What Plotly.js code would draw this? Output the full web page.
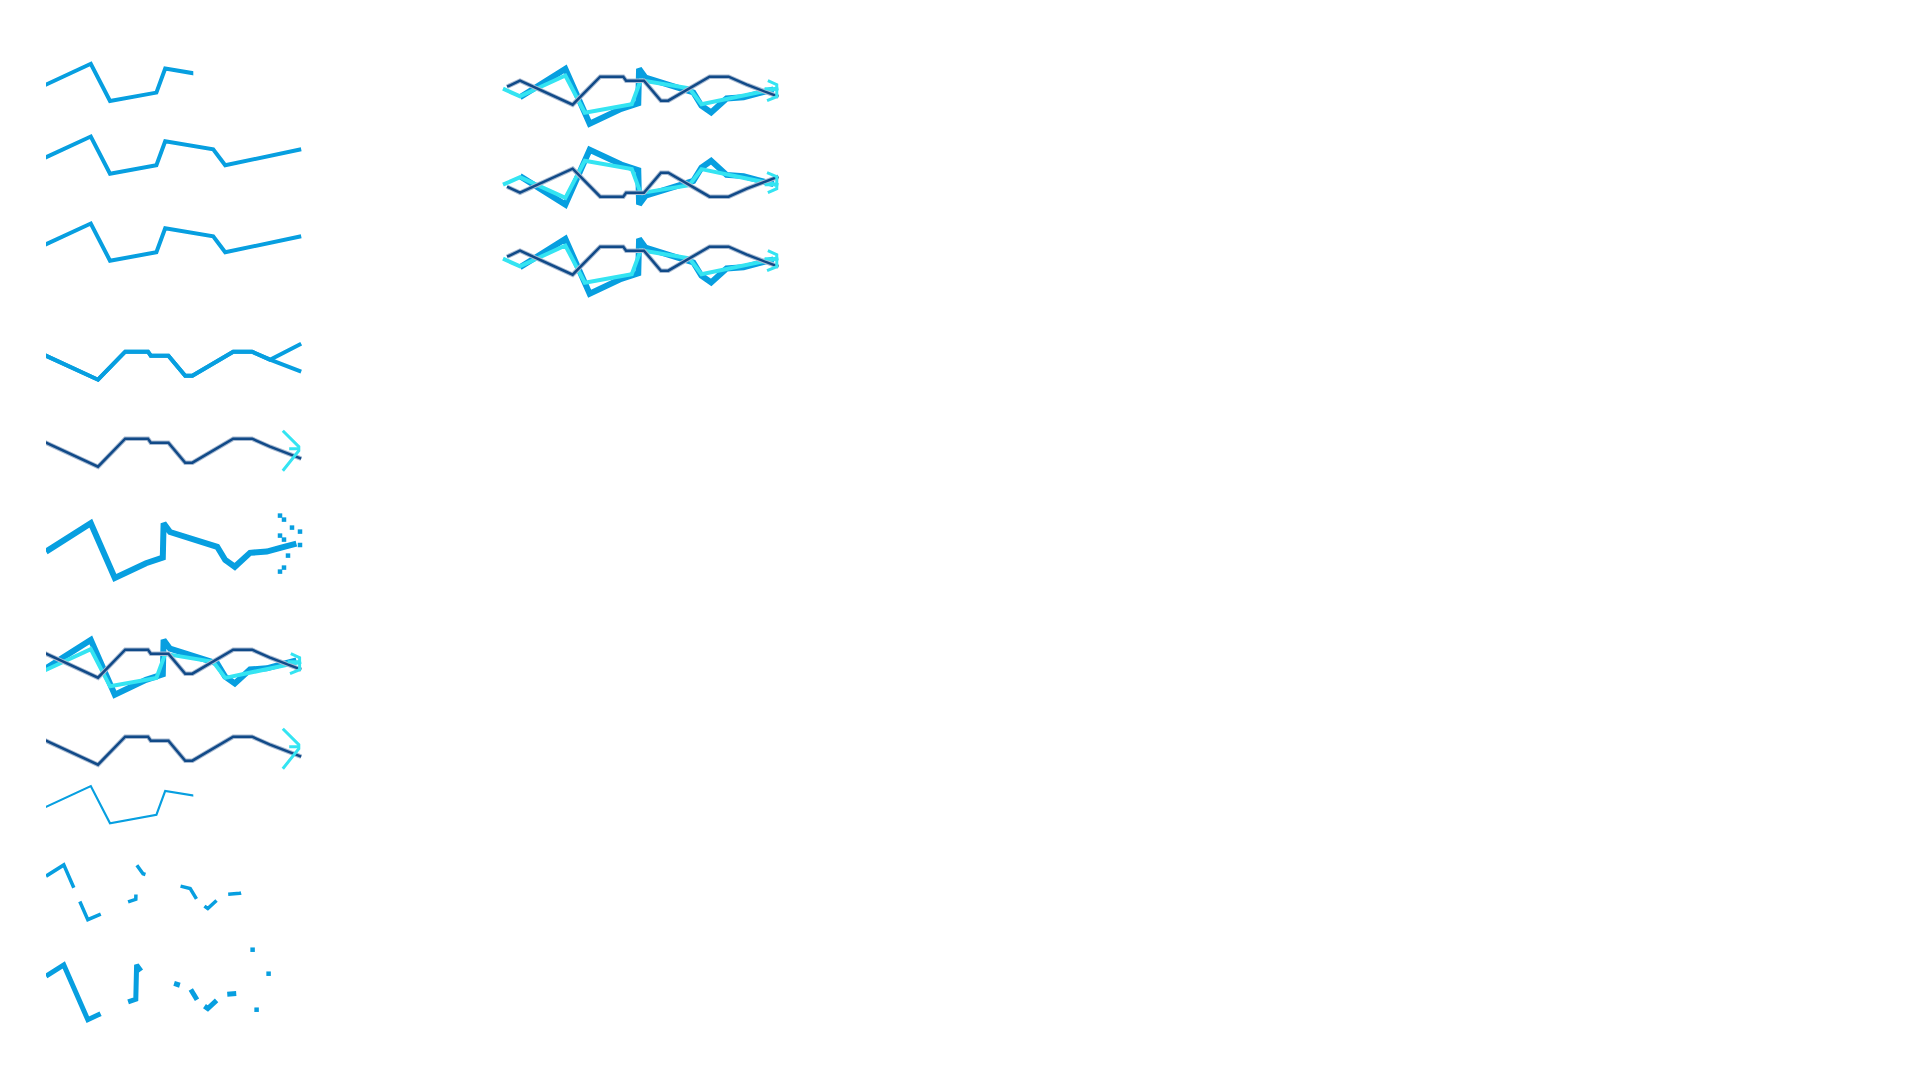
<!DOCTYPE html>
<html>
<head>
<meta charset="utf-8">
<script src="https://cdn.plot.ly/plotly-3.0.1.min.js"></script>
<style>
  body { margin: 0; background: #ffffff; }
  #chart { width: 1920px; height: 1080px; }
</style>
</head>
<body>
<div id="chart"></div>
<script>
//series (x in steps, y in value units)
const xA = [-2.1, 0, 5.6, 8, 13.8, 14.9, 20.9, 22.4, 31.9];
const valA = [6, 4.1, 9.3, 0, 2.1, 8.1, 6.1, 2.1, 6.1];

const xB = [-1.6, 0, 6.5, 9.9, 12.75, 13.1, 15.3, 17.4, 18.3, 23.4, 25.75, 28, 31.9];
const valB = [4.5, 6, 0, 7, 7, 6, 6, 1, 1, 7, 7, 5, 2];
const valBUp = [4.5, 6, 0, 7, 7, 6, 6, 1, 1, 7, 7, 5, 9];

const xC = [0, 5.6, 8.6, 10.9, 12.5, 14.6, 14.7, 15.5, 17.4, 19.6, 21.4, 22.4, 23.6, 25.5, 27.6, 29.4, 31.3];
const valC = [7.1, 14.2, 0.5, 2.5, 4.2, 5.6, 14.2, 12, 10.8, 9.2, 8.3, 5, 3.3, 6.8, 7.1, 8.1, 9.1];

//scattered ends
const tailX = [29.25, 29.75, 30.75, 31.75, 29.25, 29.75, 31.75, 30.25, 29.75, 29.25];
const tailY = [16.1, 15.1, 13.1, 12.1, 11.1, 10.1, 8.75, 6.1, 3.1, 2.1];
const tail2X = [29.2, 31.2, 29.7];
const tail2Y = [18, 12, 3];

const arrowX = [29.6, 31.6, 31.6, 29.6, null, 30.4, 31.6];
const arrowY = [9, 5, 4, -1, null, 4.5, 4.5];
const arrow2X = [30.6, 31.7, 31.7, 30.5, null, 30.2, 31.7];
const arrow2Y = [6, 5, 2, 1, null, 4, 4];

const colors = {blue: '#079fe0', navy: '#114a88', navyEdge: '#a9bbd2', cyan: '#34e4f2'};

//broken strokes of the two faded lines
const brokenThin = '0px,32px,46px,15px,34px,30px,13px,30px,13px,37px,22px,11px,16px,14px,13px,200px';
const brokenThick = '0px,32px,95px,30px,50px,36px,6px,12px,12px,10px,16px,13px,9px,200px';

const W = 1920;
const H = 1080;
const SY = 4;

let layout = {
  width: W,
  height: H,
  margin: {l: 0, r: 0, t: 0, b: 0},
  paper_bgcolor: '#ffffff',
  plot_bgcolor: 'rgba(0,0,0,0)',
  showlegend: false
};

//one hidden axis pair per layer, placed in pixels
function panel (n, x0, x1, ox, sx, base, flip) {
  let s = n === 1 ? '' : String(n);
  let y0 = flip ? base - 30 : base - 90;
  let y1 = flip ? base + 90 : base + 30;
  let bottom = flip ? (y1 - base) / SY : (base - y1) / SY;
  let top = flip ? (y0 - base) / SY : (base - y0) / SY;
  layout['xaxis' + s] = {domain: [x0 / W, x1 / W], range: [(x0 - ox) / sx, (x1 - ox) / sx], anchor: 'y' + s, visible: false, fixedrange: true};
  layout['yaxis' + s] = {domain: [1 - y1 / H, 1 - y0 / H], range: [bottom, top], anchor: 'x' + s, visible: false, fixedrange: true};
}

function line (n, xs, ys, color, width, dash) {
  let s = n === 1 ? '' : String(n);
  return {
    x: xs, y: ys, xaxis: 'x' + s, yaxis: 'y' + s,
    mode: 'lines',
    line: {color: color, width: width, dash: dash || 'solid'},
    hoverinfo: 'skip'
  };
}

function dots (n, xs, ys, color) {
  let s = n === 1 ? '' : String(n);
  return {
    x: xs, y: ys, xaxis: 'x' + s, yaxis: 'y' + s,
    mode: 'markers', cliponaxis: false,
    marker: {color: color, size: 4.5, symbol: 'square'},
    hoverinfo: 'skip'
  };
}

//navy lines have a pale rim
function navyLine (n, xs, ys) {
  return [line(n, xs, ys, colors.navyEdge, 4.5), line(n, xs, ys, colors.navy, 2.5)];
}

//left column
panel(1, 46, 193.3, 46, 8, 101);
panel(2, 46, 302, 46, 8, 173.7);
panel(3, 46, 302, 46, 8, 260.7);
panel(4, 46, 302, 46, 8, 379.7);
panel(5, 46, 302, 46, 8, 466.7);
panel(6, 46, 302, 46, 8, 580);
panel(7, 46, 302, 46, 8, 696.7);
panel(8, 46, 302, 46, 8, 686.3);
panel(9, 46, 302, 46, 8, 677.7);
panel(10, 46, 302, 46, 8, 764.7);
panel(11, 46, 193.3, 46, 8, 823.3);
panel(12, 46, 244, 19, 8, 921.7);
panel(13, 46, 244, 19, 8, 1021.7);
panel(23, 46, 302, 19, 8, 1021.7);

//right column
panel(14, 500, 779, 520, 8.1, 125.7);
panel(15, 500, 779, 520, 8.1, 112.7);
panel(16, 500, 779, 520, 8.1, 104.7);
panel(17, 500, 779, 520, 8.1, 147.7, true);
panel(18, 500, 779, 520, 8.1, 160.7, true);
panel(19, 500, 779, 520, 8.1, 168.7, true);
panel(20, 500, 779, 520, 8.1, 295.7);
panel(21, 500, 779, 520, 8.1, 282.7);
panel(22, 500, 779, 520, 8.1, 274.7);

let traces = [
  line(1, xA, valA, colors.blue, 4),
  line(2, xA, valA, colors.blue, 4),
  line(3, xA, valA, colors.blue, 4),
  line(4, xB, valB, colors.blue, 4),
  line(4, xB, valBUp, colors.blue, 4),
  ...navyLine(5, xB, valB),
  line(5, arrowX, arrowY, colors.cyan, 3),
  line(6, xC, valC, colors.blue, 6),
  dots(6, tailX, tailY, colors.blue),
  line(7, xC, valC, colors.blue, 6),
  line(8, xA, valA, colors.cyan, 4),
  ...navyLine(9, xB, valB),
  line(9, arrow2X, arrow2Y, colors.cyan, 3),
  ...navyLine(10, xB, valB),
  line(10, arrowX, arrowY, colors.cyan, 3),
  line(11, xA, valA, colors.blue, 2.2),
  line(12, xC, valC, colors.blue, 3.5, brokenThin),
  line(13, xC, valC, colors.blue, 5, brokenThick),
  dots(23, tail2X, tail2Y, colors.blue),

  line(14, xC, valC, colors.blue, 6),
  line(15, xA, valA, colors.cyan, 4),
  ...navyLine(16, xB, valB),
  line(16, arrow2X, arrow2Y, colors.cyan, 3),
  line(17, xC, valC, colors.blue, 6),
  line(18, xA, valA, colors.cyan, 4),
  ...navyLine(19, xB, valB),
  line(19, arrow2X, arrow2Y, colors.cyan, 3),
  line(20, xC, valC, colors.blue, 6),
  line(21, xA, valA, colors.cyan, 4),
  ...navyLine(22, xB, valB),
  line(22, arrow2X, arrow2Y, colors.cyan, 3)
];

let staticConfig = {staticPlot: true, displayModeBar: false, responsive: false};

Plotly.newPlot('chart', traces, layout, staticConfig);
</script>
</body>
</html>
